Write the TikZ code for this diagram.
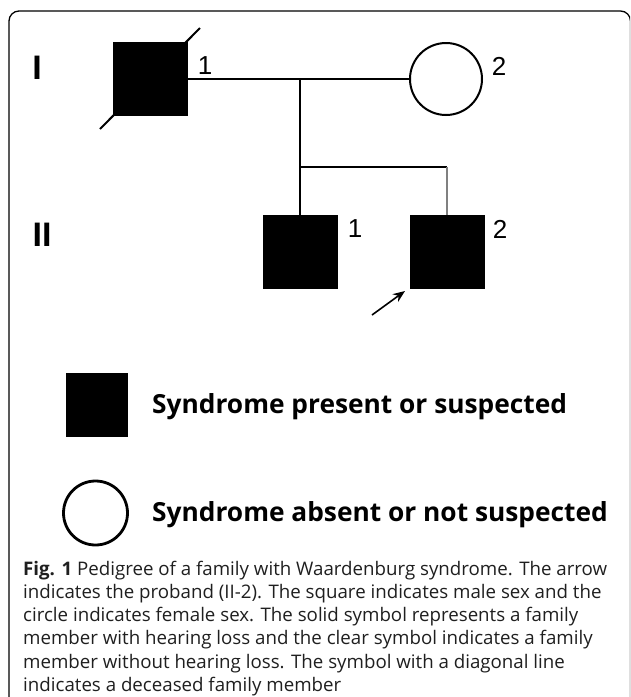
\documentclass[tikz,border=0pt]{standalone}
\usepackage{fontspec}
\setmainfont{Open Sans}
\newfontfamily\arialfont{Liberation Sans}
\usetikzlibrary{arrows.meta}
\tikzset{
  ped/.style={line width=2pt, draw=black},
  affsq/.style={draw=black, fill=black, line width=1pt, minimum width=74pt, minimum height=73pt, inner sep=0pt, outer sep=0pt},
  femc/.style={circle, draw=black, line width=2pt, fill=white, minimum size=72pt, inner sep=0pt, outer sep=0pt},
  numlab/.style={font=\arialfont\fontsize{26}{26}\selectfont, inner sep=0pt},
  genlab/.style={font=\arialfont\bfseries\fontsize{34}{34}\selectfont, inner sep=0pt},
  legtext/.style={font=\bfseries\fontsize{26.3}{30}\selectfont, anchor=base west, inner sep=0pt},
  captext/.style={font=\fontsize{18.7}{23}\selectfont, anchor=base west, inner sep=0pt, text=black!88},
  frame/.style={draw=black, line width=1.3pt, rounded corners=10pt}
}
\begin{document}
\begin{tikzpicture}[x=1pt,y=-1pt]
\useasboundingbox (0,0) rectangle (630,697);
\clip (0,0) rectangle (630,697);
\draw[frame] (9,11) rectangle (630.5,720);

% generation labels
\node[genlab] (g1) at (37,68) {I};
\node[genlab] (g2) at (42,234.5) {II};

% generation I
\coordinate (d1) at (100,129);
\coordinate (d2) at (200,28);
\draw[ped] (d1) -- (d2);
\node[affsq] (i1) at (150,79) {};
\node[femc] (i2) at (446,79) {};
\node[numlab] (l11) at (205,66) {1};
\node[numlab] (l12) at (499,66) {2};
\coordinate (m) at (300,79);
\draw[ped] (i1.east) -- (i2.west);

% generation II
\node[affsq] (ii1) at (300,251.5) {};
\node[affsq] (ii2) at (447,251.5) {};
\node[numlab] (l21) at (355,229) {1};
\node[numlab] (l22) at (500,229) {2};
\coordinate (sib) at (300,167);
\coordinate (sibr) at (447,167);
\draw[ped] (m) -- (ii1.north);
\draw[ped] (sib) -- (sibr);
\draw[ped, draw=black!50] (sibr) -- (ii2.north);

% proband arrow
\coordinate (a0) at (372,315);
\coordinate (a1) at (405,291);
\draw[line width=1.6pt, -{Stealth[length=12pt,width=9.5pt]}] (a0) -- (a1);

% legend
\node[affsq, minimum width=61pt, minimum height=63pt] (ls) at (96.5,404.5) {};
\node[femc, minimum size=64pt, line width=2.8pt] (lc) at (95.5,513) {};
\node[legtext] (t1) at (152,413.5) {Syndrome present or suspected};
\node[legtext] (t2) at (152,521.5) {Syndrome absent or not suspected};

% caption
\node[captext] (c1) at (23,575.3) {\textbf{Fig. 1} Pedigree of a family with Waardenburg syndrome. The arrow};
\node[captext] (c2) at (23,598.5) {indicates the proband (II-2). The square indicates male sex and the};
\node[captext] (c3) at (23,621.7) {circle indicates female sex. The solid symbol represents a family};
\node[captext] (c4) at (23,644.9) {member with hearing loss and the clear symbol indicates a family};
\node[captext] (c5) at (23,668.1) {member without hearing loss. The symbol with a diagonal line};
\node[captext] (c6) at (23,691.3) {indicates a deceased family member};
\end{tikzpicture}
\end{document}
